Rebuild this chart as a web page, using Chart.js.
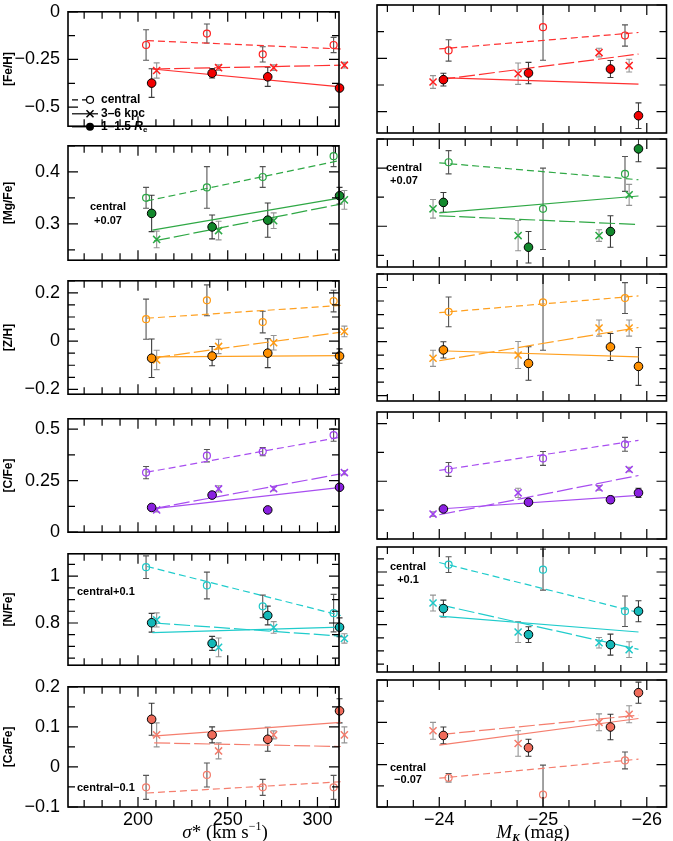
<!DOCTYPE html>
<html>
<head>
<meta charset="utf-8">
<script src="https://cdn.jsdelivr.net/npm/chart.js@4.4.0/dist/chart.umd.min.js"></script>
<style>
html, body { margin: 0; padding: 0; background: #fff; }
#wrap { position: relative; width: 673px; height: 841px; overflow: hidden; }
#wrap canvas { position: absolute; }
</style>
</head>
<body>
<div id="wrap"></div>
<script>
// x positions of the galaxies (each series is offset a little)
const sigmaCentral = [204.5, 238.4, 269.5, 309];
const sigmaKpc = [210.4, 244.9, 275.6, 315];
const sigmaRe = [207.6, 241.3, 272.3, 312.3];
const mkCentral = [-24.09, -25.0, -25.79];
const mkKpc = [-23.94, -24.76, -25.54, -25.83];
const mkRe = [-24.04, -24.86, -25.65, -25.92];

// x ends of the fitted lines
const sigmaFitCentral = [205, 313];
const sigmaFitKpc = [209, 313];
const sigmaFitRe = [208, 313];
const mkFit = [-24.0, -25.92];

// tick labels
const sigmaTicks = [200, 250, 300];
const mkTicks = [-24, -25, -26];
const feTicks = [-0.5, -0.25, 0];
const mgTicks = [0.3, 0.4];
const zhTicks = [-0.2, 0, 0.2];
const cTicks = [0, 0.25, 0.5];
const nTicks = [0.8, 1];
const caTicks = [-0.1, 0, 0.1, 0.2];

// [Fe/H]
const feSigCen = [-0.174, -0.114, -0.223, -0.174];
const feSigCenErr = [0.08, 0.05, 0.04, 0.04];
const feSigCenFit = [-0.151, -0.195];
const feSigKpc = [-0.308, -0.293, -0.293, -0.28];
const feSigKpcErr = [0.04, 0.015, 0.015, 0.015];
const feSigKpcFit = [-0.30, -0.28];
const feSigRe = [-0.374, -0.322, -0.341, -0.40];
const feSigReErr = [0.075, 0.025, 0.05, 0.015];
const feSigReFit = [-0.30, -0.394];
const feMkCen = [-0.213, -0.104, -0.143];
const feMkCenErr = [0.05, 0.155, 0.05];
const feMkCenFit = [-0.206, -0.129];
const feMkKpc = [-0.361, -0.322, -0.223, -0.284];
const feMkKpcErr = [0.03, 0.05, 0.02, 0.03];
const feMkKpcFit = [-0.35, -0.23];
const feMkRe = [-0.35, -0.319, -0.30, -0.519];
const feMkReErr = [0.03, 0.05, 0.04, 0.06];
const feMkReFit = [-0.34, -0.371];

// [Mg/Fe]
const mgSigCen = [0.35, 0.37, 0.39, 0.43];
const mgSigCenErr = [0.02, 0.04, 0.02, 0.02];
const mgSigCenFit = [0.344, 0.422];
const mgSigKpc = [0.270, 0.287, 0.306, 0.346];
const mgSigKpcErr = [0.016, 0.018, 0.015, 0.018];
const mgSigKpcFit = [0.267, 0.338];
const mgSigRe = [0.32, 0.294, 0.307, 0.354];
const mgSigReErr = [0.035, 0.023, 0.033, 0.016];
const mgSigReFit = [0.288, 0.35];
const mgMkCen = [0.41, 0.33, 0.39];
const mgMkCenErr = [0.02, 0.07, 0.03];
const mgMkCenFit = [0.409, 0.38];
const mgMkKpc = [0.33, 0.284, 0.284, 0.354];
const mgMkKpcErr = [0.016, 0.026, 0.01, 0.018];
const mgMkKpcFit = [0.318, 0.303];
const mgMkRe = [0.341, 0.264, 0.291, 0.433];
const mgMkReErr = [0.017, 0.027, 0.027, 0.022];
const mgMkReFit = [0.323, 0.352];

// [Z/H]
const zhSigCen = [0.091, 0.169, 0.079, 0.166];
const zhSigCenErr = [0.083, 0.064, 0.045, 0.045];
const zhSigCenFit = [0.095, 0.148];
const zhSigKpc = [-0.078, -0.022, -0.007, 0.04];
const zhSigKpcErr = [0.04, 0.03, 0.03, 0.022];
const zhSigKpcFit = [-0.069, 0.037];
const zhSigRe = [-0.071, -0.062, -0.05, -0.062];
const zhSigReErr = [0.08, 0.04, 0.06, 0.03];
const zhSigReFit = [-0.065, -0.06];
const zhMkCen = [0.11, 0.145, 0.161];
const zhMkCenErr = [0.055, 0.177, 0.057];
const zhMkCenFit = [0.107, 0.169];
const zhMkKpc = [-0.062, -0.05, 0.05, 0.05];
const zhMkKpcErr = [0.03, 0.05, 0.03, 0.03];
const zhMkKpcFit = [-0.071, 0.052];
const zhMkRe = [-0.031, -0.081, -0.02, -0.092];
const zhMkReErr = [0.03, 0.062, 0.05, 0.07];
const zhMkReFit = [-0.034, -0.057];

// [C/Fe]
const cSigCen = [0.289, 0.371, 0.391, 0.471];
const cSigCenErr = [0.03, 0.03, 0.02, 0.03];
const cSigCenFit = [0.291, 0.461];
const cSigKpc = [0.108, 0.21, 0.211, 0.289];
const cSigKpcErr = [0.01, 0.015, 0.01, 0.01];
const cSigKpcFit = [0.115, 0.283];
const cSigRe = [0.12, 0.18, 0.108, 0.218];
const cSigReErr = [0.012, 0.012, 0.012, 0.01];
const cSigReFit = [0.113, 0.217];
const cMkCen = [0.301, 0.349, 0.41];
const cMkCenErr = [0.03, 0.03, 0.03];
const cMkCenFit = [0.297, 0.427];
const cMkKpc = [0.108, 0.2, 0.221, 0.301];
const cMkKpcErr = [0.01, 0.02, 0.01, 0.01];
const cMkKpcFit = [0.105, 0.275];
const cMkRe = [0.13, 0.159, 0.17, 0.2];
const cMkReErr = [0.008, 0.008, 0.015, 0.02];
const cMkReFit = [0.13, 0.189];

// [N/Fe]
const nSigCen = [1.038, 0.96, 0.871, 0.842];
const nSigCenErr = [0.048, 0.057, 0.048, 0.08];
const nSigCenFit = [1.041, 0.832];
const nSigKpc = [0.813, 0.696, 0.781, 0.734];
const nSigKpcErr = [0.03, 0.04, 0.025, 0.02];
const nSigKpcFit = [0.80, 0.744];
const nSigRe = [0.801, 0.713, 0.832, 0.782];
const nSigReErr = [0.04, 0.03, 0.04, 0.04];
const nSigReFit = [0.759, 0.782];
const nMkCen = [1.028, 1.009, 0.851];
const nMkCenErr = [0.03, 0.078, 0.058];
const nMkCenFit = [1.036, 0.846];
const nMkKpc = [0.882, 0.772, 0.731, 0.705];
const nMkKpcErr = [0.03, 0.04, 0.02, 0.03];
const nMkKpcFit = [0.876, 0.706];
const nMkRe = [0.861, 0.762, 0.724, 0.851];
const nMkReErr = [0.032, 0.03, 0.04, 0.04];
const nMkReFit = [0.832, 0.772];

// [Ca/Fe]
const caSigCen = [-0.051, -0.02, -0.051, -0.051];
const caSigCenErr = [0.03, 0.03, 0.02, 0.03];
const caSigCenFit = [-0.065, -0.037];
const caSigKpc = [0.08, 0.04, 0.08, 0.08];
const caSigKpcErr = [0.03, 0.02, 0.01, 0.02];
const caSigKpcFit = [0.06, 0.051];
const caSigRe = [0.119, 0.08, 0.069, 0.14];
const caSigReErr = [0.04, 0.02, 0.03, 0.03];
const caSigReFit = [0.077, 0.111];
const caMkCen = [-0.031, -0.071, 0.01];
const caMkCenErr = [0.01, 0.07, 0.02];
const caMkCenFit = [-0.032, 0.013];
const caMkKpc = [0.08, 0.05, 0.1, 0.119];
const caMkKpcErr = [0.02, 0.03, 0.02, 0.02];
const caMkKpcFit = [0.071, 0.117];
const caMkRe = [0.069, 0.04, 0.089, 0.17];
const caMkReErr = [0.02, 0.02, 0.03, 0.025];
const caMkReFit = [0.046, 0.109];

// page layout of the plot boxes
const rowTop = [5, 139, 274, 412, 547, 680];
const rowBottom = [133, 267, 401, 539, 672, 807];

const SANS = '"Liberation Sans", Arial, sans-serif';
const SERIF = '"Liberation Serif", "Times New Roman", serif';

const rows = [
  { name: '[Fe/H]', min: -0.6, max: 0, ticks: feTicks, minor: 0.125, major: 0.25,
    line: '#ff3030', open: '#ff2020', fill: '#f20000',
    sig: [[feSigCen, feSigCenErr, feSigCenFit], [feSigKpc, feSigKpcErr, feSigKpcFit], [feSigRe, feSigReErr, feSigReFit]],
    mk: [[feMkCen, feMkCenErr, feMkCenFit], [feMkKpc, feMkKpcErr, feMkKpcFit], [feMkRe, feMkReErr, feMkReFit]],
    notesL: [], notesR: [] },
  { name: '[Mg/Fe]', min: 0.23, max: 0.45, ticks: mgTicks, minor: 0.05, major: 0.1,
    line: '#2fa845', open: '#2aa844', fill: '#12882c',
    sig: [[mgSigCen, mgSigCenErr, mgSigCenFit], [mgSigKpc, mgSigKpcErr, mgSigKpcFit], [mgSigRe, mgSigReErr, mgSigReFit]],
    mk: [[mgMkCen, mgMkCenErr, mgMkCenFit], [mgMkKpc, mgMkKpcErr, mgMkKpcFit], [mgMkRe, mgMkReErr, mgMkReFit]],
    notesL: [['central', 40, 61, 'center'], ['+0.07', 40, 75, 'center']],
    notesR: [['central', 27, 29, 'center'], ['+0.07', 27, 42, 'center']] },
  { name: '[Z/H]', min: -0.22, max: 0.25, ticks: zhTicks, minor: 0.05, major: 0.2,
    line: '#ffa020', open: '#ff9a10', fill: '#ff9000',
    sig: [[zhSigCen, zhSigCenErr, zhSigCenFit], [zhSigKpc, zhSigKpcErr, zhSigKpcFit], [zhSigRe, zhSigReErr, zhSigReFit]],
    mk: [[zhMkCen, zhMkCenErr, zhMkCenFit], [zhMkKpc, zhMkKpcErr, zhMkKpcFit], [zhMkRe, zhMkReErr, zhMkReFit]],
    notesL: [], notesR: [] },
  { name: '[C/Fe]', min: 0, max: 0.55, ticks: cTicks, minor: 0.125, major: 0.25,
    line: '#a84ef0', open: '#a040f0', fill: '#8a20e0',
    sig: [[cSigCen, cSigCenErr, cSigCenFit], [cSigKpc, cSigKpcErr, cSigKpcFit], [cSigRe, cSigReErr, cSigReFit]],
    mk: [[cMkCen, cMkCenErr, cMkCenFit], [cMkKpc, cMkKpcErr, cMkKpcFit], [cMkRe, cMkReErr, cMkReFit]],
    notesL: [], notesR: [] },
  { name: '[N/Fe]', min: 0.62, max: 1.095, ticks: nTicks, minor: 0.05, major: 0.2,
    line: '#20cccc', open: '#1ec8c8', fill: '#14b8b8',
    sig: [[nSigCen, nSigCenErr, nSigCenFit], [nSigKpc, nSigKpcErr, nSigKpcFit], [nSigRe, nSigReErr, nSigReFit]],
    mk: [[nMkCen, nMkCenErr, nMkCenFit], [nMkKpc, nMkKpcErr, nMkKpcFit], [nMkRe, nMkReErr, nMkReFit]],
    notesL: [['central+0.1', 9, 38, 'left']],
    notesR: [['central', 31, 20, 'center'], ['+0.1', 31, 33, 'center']] },
  { name: '[Ca/Fe]', min: -0.1, max: 0.2, ticks: caTicks, minor: 0.05, major: 0.1,
    line: '#f57e6e', open: '#f47c6c', fill: '#ef6b5a',
    sig: [[caSigCen, caSigCenErr, caSigCenFit], [caSigKpc, caSigKpcErr, caSigKpcFit], [caSigRe, caSigReErr, caSigReFit]],
    mk: [[caMkCen, caMkCenErr, caMkCenFit], [caMkKpc, caMkKpcErr, caMkKpcFit], [caMkRe, caMkReErr, caMkReFit]],
    notesL: [['central−0.1', 9, 101, 'left']],
    notesR: [['central', 31, 88, 'center'], ['−0.07', 31, 100, 'center']] }
];

const errColors = ['#555555', '#949494', '#3a3a3a'];
const dashes = [[7, 4], [16, 4], []];

function fmt(v) {
  const s = String(Math.round(v * 1000) / 1000);
  return v < 0 ? '−' + s.slice(1) : s;
}

function steps(min, max, step) {
  const out = [];
  const lo = Math.min(min, max), hi = Math.max(min, max);
  for (let k = Math.ceil(lo / step - 1e-6); k * step <= hi + 1e-9; k++) out.push(k * step);
  return out;
}

function richText(ctx, parts, x, y, align) {
  let w = 0;
  parts.forEach(p => { ctx.font = p.font; w += ctx.measureText(p.t).width; });
  let cx = align === 'center' ? x - w / 2 : x;
  ctx.textAlign = 'left';
  ctx.textBaseline = 'middle';
  parts.forEach(p => {
    ctx.font = p.font;
    ctx.fillText(p.t, cx, y + (p.dy || 0));
    cx += ctx.measureText(p.t).width;
  });
}

// error bars, drawn under the markers
const errorBars = {
  id: 'errorBars',
  beforeDatasetsDraw(chart) {
    const { ctx, chartArea: a, scales: { x, y } } = chart;
    ctx.save();
    ctx.beginPath();
    ctx.rect(a.left - 14, a.top, a.right - a.left + 28, a.bottom - a.top);
    ctx.clip();
    ctx.lineWidth = 1.1;
    chart.data.datasets.forEach(ds => {
      if (!ds.errs) return;
      ctx.strokeStyle = ds.errColor;
      ds.data.forEach((p, i) => {
        const e = ds.errs[i];
        const px = x.getPixelForValue(p.x);
        const y1 = y.getPixelForValue(p.y + e);
        const y2 = y.getPixelForValue(p.y - e);
        ctx.beginPath();
        ctx.moveTo(px, y1); ctx.lineTo(px, y2);
        ctx.moveTo(px - 3, y1); ctx.lineTo(px + 3, y1);
        ctx.moveTo(px - 3, y2); ctx.lineTo(px + 3, y2);
        ctx.stroke();
      });
    });
    ctx.restore();
  }
};

// box and inward ticks on all four sides
function frameTicks(o) {
  return {
    id: 'frameTicks',
    afterDraw(chart) {
      const { ctx, chartArea: a, scales: { x, y } } = chart;
      const isMajor = (v, st) => Math.abs(v / st - Math.round(v / st)) < 1e-6;
      ctx.save();
      ctx.strokeStyle = '#000';
      ctx.lineWidth = 1.2;
      steps(x.min, x.max, o.xMinor).forEach(v => {
        const px = x.getPixelForValue(v);
        const len = isMajor(v, o.xMajor) ? 10 : 7;
        ctx.beginPath();
        ctx.moveTo(px, a.bottom); ctx.lineTo(px, a.bottom - len);
        ctx.moveTo(px, a.top); ctx.lineTo(px, a.top + len);
        ctx.stroke();
      });
      steps(y.min, y.max, o.yMinor).forEach(v => {
        const py = y.getPixelForValue(v);
        const len = isMajor(v, o.yMajor) ? 10 : 7;
        ctx.beginPath();
        ctx.moveTo(a.left, py); ctx.lineTo(a.left + len, py);
        ctx.moveTo(a.right, py); ctx.lineTo(a.right - len, py);
        ctx.stroke();
      });
      ctx.lineWidth = 1.6;
      ctx.strokeRect(a.left, a.top, a.right - a.left, a.bottom - a.top);
      ctx.restore();
    }
  };
}

// legend, notes and x titles
function panelText(info) {
  return {
    id: 'panelText',
    afterDraw(chart) {
      const { ctx, chartArea: a } = chart;
      ctx.save();
      ctx.fillStyle = '#000';
      info.notes.forEach(([t, dx, dy, align]) => {
        richText(ctx, [{ t, font: 'bold 11px ' + SANS }], a.left + dx, a.top + dy, align);
      });
      if (info.legend) {
        const x0 = a.left + 4, xm = a.left + 22, xt = a.left + 33;
        const ys = [a.top + 88, a.top + 102, a.top + 115];
        ctx.strokeStyle = '#000';
        ctx.lineWidth = 1.2;
        ctx.setLineDash([6, 4]);
        ctx.beginPath(); ctx.moveTo(x0, ys[0]); ctx.lineTo(xm - 4, ys[0]); ctx.stroke();
        ctx.setLineDash([]);
        ctx.beginPath(); ctx.arc(xm, ys[0], 3.5, 0, Math.PI * 2); ctx.stroke();
        ctx.beginPath(); ctx.moveTo(x0, ys[1]); ctx.lineTo(xm + 8, ys[1]); ctx.stroke();
        ctx.lineWidth = 1.5;
        ctx.beginPath();
        ctx.moveTo(xm - 3.5, ys[1] - 3.5); ctx.lineTo(xm + 3.5, ys[1] + 3.5);
        ctx.moveTo(xm - 3.5, ys[1] + 3.5); ctx.lineTo(xm + 3.5, ys[1] - 3.5);
        ctx.stroke();
        ctx.lineWidth = 1.2;
        ctx.beginPath(); ctx.moveTo(x0, ys[2]); ctx.lineTo(xm, ys[2]); ctx.stroke();
        ctx.beginPath(); ctx.arc(xm, ys[2], 4, 0, Math.PI * 2); ctx.fill();
        const b = 'bold 12px ' + SANS;
        richText(ctx, [{ t: 'central', font: b }], xt, ys[0], 'left');
        richText(ctx, [{ t: '3–6 kpc', font: b }], xt, ys[1], 'left');
        richText(ctx, [{ t: '1–1.5 ', font: b }, { t: 'R', font: 'italic bold 12px ' + SANS },
          { t: 'e', font: 'bold 8px ' + SANS, dy: 3 }], xt, ys[2], 'left');
      }
      if (info.title === 'sigma') {
        richText(ctx, [
          { t: 'σ', font: 'italic 19px ' + SERIF },
          { t: '* (km s', font: '19px ' + SERIF },
          { t: '−1', font: '12px ' + SERIF, dy: -6 },
          { t: ')', font: '19px ' + SERIF }
        ], a.left + 157, a.bottom + 26, 'center');
      } else if (info.title === 'mk') {
        richText(ctx, [
          { t: 'M', font: 'italic 19px ' + SERIF },
          { t: 'K', font: 'italic bold 11px ' + SERIF, dy: 5 },
          { t: ' (mag)', font: '19px ' + SERIF }
        ], a.left + 156, a.bottom + 26, 'center');
      }
      ctx.restore();
    }
  };
}

function buildDatasets(row, col) {
  const xs = col === 0 ? [sigmaCentral, sigmaKpc, sigmaRe] : [mkCentral, mkKpc, mkRe];
  const fx = col === 0 ? [sigmaFitCentral, sigmaFitKpc, sigmaFitRe] : [mkFit, mkFit, mkFit];
  const series = col === 0 ? row.sig : row.mk;
  const points = [], fits = [];
  series.forEach(([vals, errs, fit], k) => {
    const data = vals.map((v, i) => ({ x: xs[k][i], y: v }));
    const base = { data, errs, errColor: errColors[k], showLine: false, clip: false };
    if (k === 0) {
      points.push(Object.assign(base, { pointStyle: 'circle', pointRadius: 3.5,
        pointBackgroundColor: 'rgba(0,0,0,0)', pointBorderColor: row.open, pointBorderWidth: 1.2 }));
    } else if (k === 1) {
      points.push(Object.assign(base, { pointStyle: 'crossRot', pointRadius: 5,
        pointBorderColor: row.open, pointBorderWidth: 1.5 }));
    } else {
      points.unshift(Object.assign(base, { pointStyle: 'circle', pointRadius: 4.3,
        pointBackgroundColor: row.fill, pointBorderColor: '#000', pointBorderWidth: 1 }));
    }
    fits.push({ data: fit.map((v, i) => ({ x: fx[k][i], y: v })), showLine: true, pointRadius: 0,
      borderColor: row.line, borderWidth: 1.2, borderDash: dashes[k], clip: false });
  });
  return points.concat(fits);
}

function makePanel(r, col) {
  const row = rows[r];
  const last = r === rows.length - 1;
  const top = rowTop[r], bottom = rowBottom[r];
  const cx = col === 0 ? 0 : 340;
  const cw = col === 0 ? 356 : 333;
  const cy = top - 12;
  const ch = last ? 841 - cy : (bottom - top) + 24;

  const canvas = document.createElement('canvas');
  canvas.width = cw;
  canvas.height = ch;
  canvas.style.left = cx + 'px';
  canvas.style.top = cy + 'px';
  canvas.style.width = cw + 'px';
  canvas.style.height = ch + 'px';
  document.getElementById('wrap').appendChild(canvas);

  const tickInfo = { xMinor: col === 0 ? 10 : 0.25, xMajor: col === 0 ? 50 : 1, yMinor: row.minor, yMajor: row.major };
  const textInfo = {
    notes: col === 0 ? row.notesL : row.notesR,
    legend: r === 0 && col === 0,
    title: last ? (col === 0 ? 'sigma' : 'mk') : null
  };

  new Chart(canvas, {
    type: 'scatter',
    data: { datasets: buildDatasets(row, col) },
    options: {
      responsive: false,
      devicePixelRatio: 1,
      animation: false,
      events: [],
      layout: { padding: { left: col === 0 ? 0 : 37, right: col === 0 ? 17 : 1, top: 12, bottom: last ? 0 : 12 } },
      plugins: { legend: { display: false }, tooltip: { enabled: false } },
      scales: {
        x: {
          type: 'linear',
          min: col === 0 ? 161 : -26.19,
          max: col === 0 ? 312 : -23.4,
          reverse: col === 1,
          display: last,
          grid: { display: false, drawTicks: false },
          border: { display: false },
          ticks: { color: '#000', font: { size: 18, family: SANS }, padding: 2, autoSkip: false, maxRotation: 0,
            callback: v => fmt(v) },
          afterBuildTicks: s => { s.ticks = (col === 0 ? sigmaTicks : mkTicks).map(v => ({ value: v })); },
          afterFit: s => { if (last) s.height = 34; }
        },
        y: {
          type: 'linear',
          min: row.min,
          max: row.max,
          display: col === 0,
          grid: { display: false, drawTicks: false },
          border: { display: false },
          ticks: { color: '#000', font: { size: 18, family: SANS }, padding: 8, autoSkip: false,
            callback: v => fmt(v) },
          title: { display: true, text: row.name, color: '#000', font: { size: 12, weight: 'bold', family: SANS },
            padding: { top: 1, bottom: 0 } },
          afterBuildTicks: s => { s.ticks = row.ticks.map(v => ({ value: v })); },
          afterFit: s => { if (col === 0) s.width = 68; }
        }
      }
    },
    plugins: [errorBars, frameTicks(tickInfo), panelText(textInfo)]
  });
}

rows.forEach((row, r) => {
  makePanel(r, 0);
  makePanel(r, 1);
});
</script>
</body>
</html>
